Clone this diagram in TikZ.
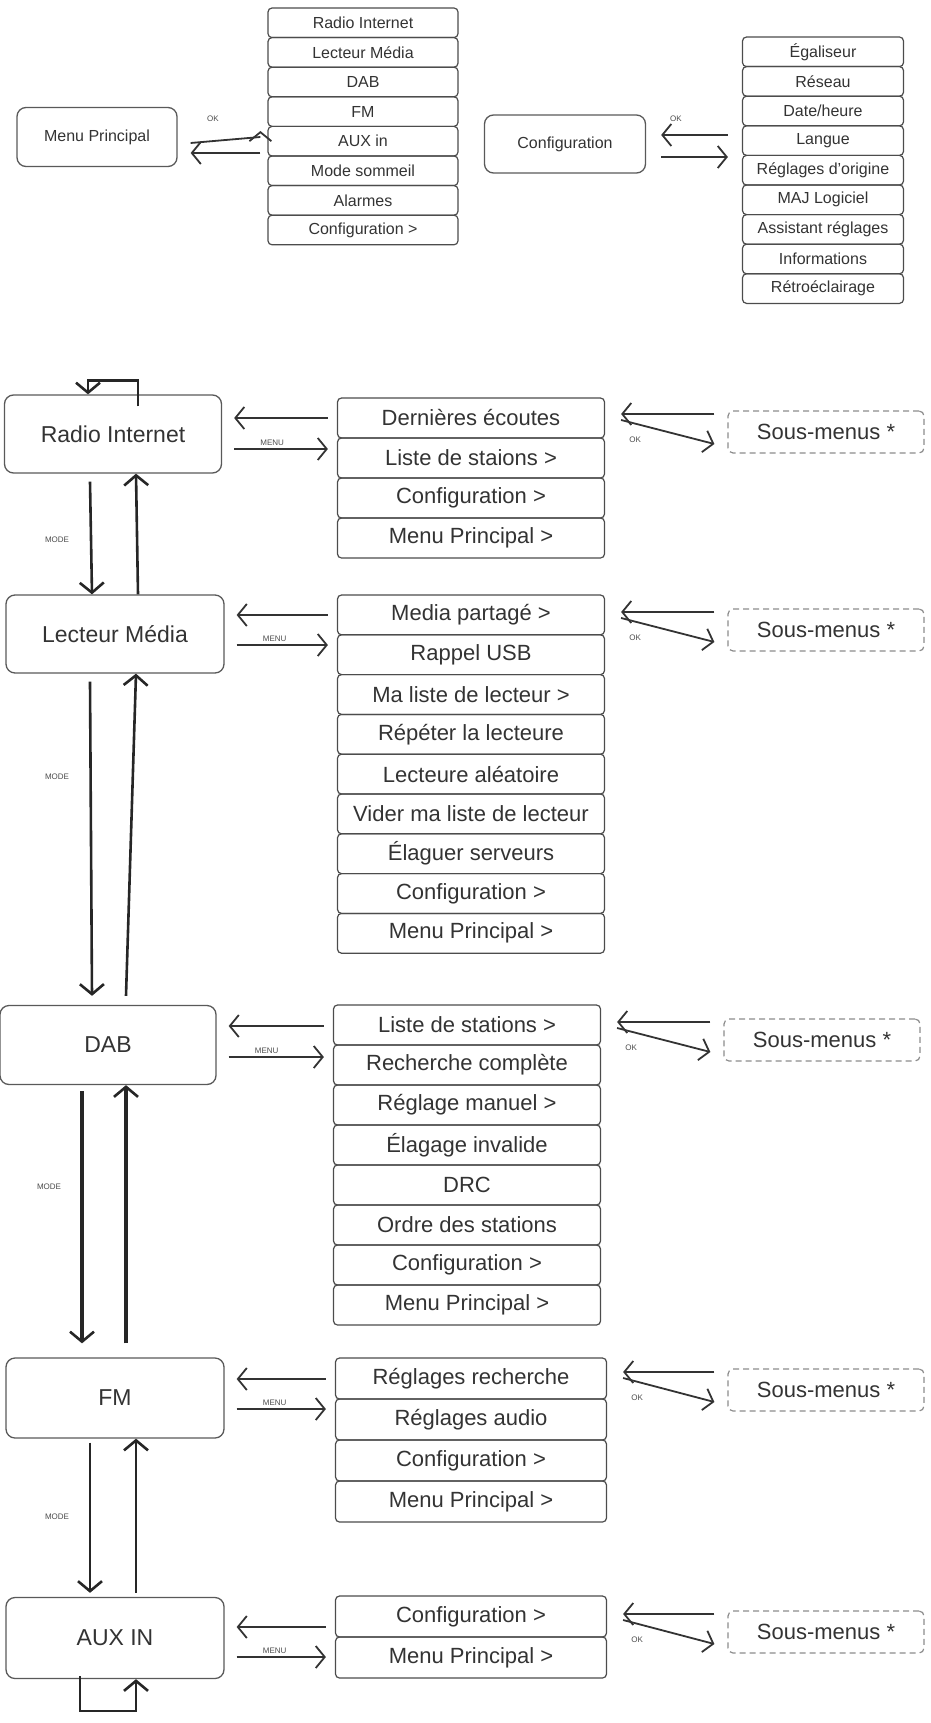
\documentclass[tikz,border=0pt]{standalone}
\usepackage{fontspec}
\setmainfont{Liberation Sans}
\usetikzlibrary{arrows.meta,calc}

\tikzset{
    box/.style={draw=black!65, line width=1.3pt, rounded corners=9pt, text=black!80},
    mainbox/.style={box, minimum width=217pt, minimum height=78pt, font=\fontsize{23}{26}\selectfont},
    topbox/.style={box, minimum width=160pt, minimum height=59pt, font=\fontsize{16}{19}\selectfont},
    item/.style={draw=black!70, line width=1.2pt, rounded corners=4pt, text=black!80, inner sep=0pt},
    bigitem/.style={item, minimum width=267pt, minimum height=40pt, font=\fontsize{22}{25}\selectfont},
    smallitem/.style={item, minimum width=190pt, minimum height=29.6pt, font=\fontsize{16}{18}\selectfont},
    subbox/.style={draw=black!45, dashed, dash pattern=on 6pt off 4pt, line width=1.2pt, rounded corners=5pt,
        minimum width=196pt, minimum height=42pt, font=\fontsize{22}{25}\selectfont, text=black!80},
    arr/.style={line width=1.8pt, black!80, -{Straight Barb[length=9pt,width=22pt,line width=1.8pt]}},
    mode/.style={line width=2.6pt, black!85, -{Straight Barb[length=10pt,width=24pt,line width=2.6pt]}},
    lbl/.style={font=\fontsize{8}{9}\selectfont, text=black!70}
}

\begin{document}
\begin{tikzpicture}[x=1pt, y=-1pt]
    \useasboundingbox (0,0) rectangle (931,1723);

    % top part
    \node[topbox] (mp) at (97,137) {Menu Principal};
    \foreach \t [count=\i] in {Radio Internet, Lecteur Média, DAB, FM, AUX in, Mode sommeil, Alarmes, Configuration >}
        \node[smallitem] (mpl-\i) at (363, {8+14.8+(\i-1)*29.6}) {\t};
    \node[topbox, minimum width=161pt, minimum height=58pt] (cf) at (565,144) {Configuration};
    \foreach \t [count=\i] in {Égaliseur, Réseau, Date/heure, Langue, Réglages d'origine, MAJ Logiciel, Assistant réglages, Informations, Rétroéclairage}
        \node[smallitem, minimum width=161pt] (cfl-\i) at (823, {37+14.8+(\i-1)*29.6}) {\t};

    \draw[arr] ([xshift=13pt, yshift=-6pt]mp.east) -- ([xshift=-7pt]mp.east -| mpl-5.west) ++(0,-6) coordinate (a1);
    \draw[arr] ([xshift=-7pt, yshift=-16pt]mp.east -| mpl-5.west) -- ([xshift=13pt, yshift=-16pt]mp.east);
    \node[lbl] at (213,119) {OK};
    \draw[arr] ([xshift=15pt, yshift=-13pt]cf.east) -- ([xshift=-14pt, yshift=-13pt]cf.east -| cfl-4.west);
    \draw[arr] ([xshift=-14pt, yshift=9pt]cf.east -| cfl-4.west) -- ([xshift=15pt, yshift=9pt]cf.east);
    \node[lbl] at (676,119) {OK};

    % modes
    \node[mainbox] (ri) at (113,434) {Radio Internet};
    \node[mainbox, minimum width=218pt] (lm) at (115,634) {Lecteur Média};
    \node[mainbox, minimum width=216pt, minimum height=79pt] (dab) at (108,1045) {DAB};
    \node[mainbox, minimum width=218pt, minimum height=80pt] (fm) at (115,1398) {FM};
    \node[mainbox, minimum width=218pt, minimum height=81pt] (aux) at (115,1638) {AUX IN};

    % sub lists
    \foreach \t [count=\i] in {Dernières écoutes, Liste de staions >, Configuration >, Menu Principal >}
        \node[bigitem] (ril-\i) at (471, {398+20+(\i-1)*40}) {\t};
    \foreach \t [count=\i] in {Media partagé >, Rappel USB, Ma liste de lecteur >, Répéter la lecteure, Lecteure aléatoire, Vider ma liste de lecteur, Élaguer serveurs, Configuration >, Menu Principal >}
        \node[bigitem, minimum height=39.8pt] (lml-\i) at (471, {595+19.9+(\i-1)*39.8}) {\t};
    \foreach \t [count=\i] in {Liste de stations >, Recherche complète, Réglage manuel >, Élagage invalide, DRC, Ordre des stations, Configuration >, Menu Principal >}
        \node[bigitem, minimum height=40pt] (dabl-\i) at (467, {1005+20+(\i-1)*40}) {\t};
    \foreach \t [count=\i] in {Réglages recherche, Réglages audio, Configuration >, Menu Principal >}
        \node[bigitem, minimum width=271pt, minimum height=41pt] (fml-\i) at (471, {1358+20.5+(\i-1)*41}) {\t};
    \foreach \t [count=\i] in {Configuration >, Menu Principal >}
        \node[bigitem, minimum width=271pt, minimum height=41pt] (auxl-\i) at (471, {1596+20.5+(\i-1)*41}) {\t};

    % sous-menus
    \node[subbox] (ris) at (826,432) {Sous-menus *};
    \node[subbox] (lms) at (826,630) {Sous-menus *};
    \node[subbox] (dabs) at (822,1040) {Sous-menus *};
    \node[subbox] (fms) at (826,1390) {Sous-menus *};
    \node[subbox] (auxs) at (826,1632) {Sous-menus *};

    % MENU / OK arrows
    \foreach \m/\l/\s/\a/\b in {ri/ril/ris/-15/16, lm/lml/lms/-11/19, dab/dabl/dabs/-12/19, fm/fml/fms/-11/19, aux/auxl/auxs/-19/11} {
        \draw[arr] ([xshift=12pt, yshift=\a pt]\m.east) -- ([xshift=-9pt, yshift=\a pt]\m.east -| \l-1.west);
        \draw[arr] ([xshift=-9pt, yshift=\b pt]\m.east -| \l-1.west) -- ([xshift=12pt, yshift=\b pt]\m.east);
        \node[lbl, anchor=south] at ([xshift=50pt, yshift=\a pt]\m.east) {MENU};
        \draw[arr] ([xshift=16pt]\l-1.east |- \s.west) ++(0,-12) -- ([xshift=-13pt, yshift=-12pt]\s.west);
        \draw[arr] ([xshift=-13pt, yshift=18pt]\s.west) -- ([xshift=16pt, yshift=18pt]\l-1.east |- \s.west);
        \node[lbl, anchor=south] at ([xshift=30pt, yshift=-14pt]\l-1.east |- \s.west) {OK};
    }

    % MODE arrows
    \draw[mode] ([xshift=-23pt, yshift=-8pt]ri.south) -- ([xshift=-23pt]lm.north);
    \draw[mode] ([xshift=23pt]lm.north) -- ([xshift=23pt]ri.south);
    \node[lbl] at (57,540) {MODE};
    \draw[mode] ([xshift=-25pt, yshift=-8pt]lm.south) -- ([xshift=-16pt, yshift=9pt]dab.north);
    \draw[mode] ([xshift=18pt, yshift=9pt]dab.north) -- ([xshift=21pt]lm.south);
    \node[lbl] at (57,777) {MODE};
    \draw[mode, line width=3.4pt] ([xshift=-26pt, yshift=-6pt]dab.south) -- ([xshift=-33pt, yshift=14pt]fm.north);
    \draw[mode, line width=3.4pt] ([xshift=11pt, yshift=14pt]fm.north) -- ([xshift=18pt]dab.south);
    \node[lbl] at (49,1187) {MODE};
    \draw[mode] ([xshift=-25pt, yshift=-4pt]fm.south) -- ([xshift=-25pt, yshift=4pt]aux.north);
    \draw[mode] ([xshift=21pt, yshift=4pt]aux.north) -- ([xshift=21pt]fm.south);
    \node[lbl] at (57,1517) {MODE};

    % loops
    \draw[mode] ([xshift=25pt, yshift=-12pt]ri.north) |- ++(-50,-26) coordinate (lp1) -- ([xshift=-25pt]ri.north);
    \draw[mode] ([xshift=-35pt, yshift=3pt]aux.south) |- ++(56,35) coordinate (lp2) -- ([xshift=21pt]aux.south);
\end{tikzpicture}
\end{document}
